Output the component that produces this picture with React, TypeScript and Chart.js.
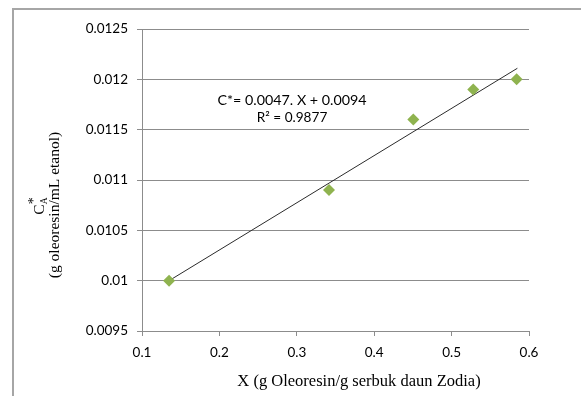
import React, { useEffect, useRef } from "react";
import { Chart, registerables } from "chart.js";

Chart.register(...registerables);

const xValues = [0.135, 0.3416, 0.4505, 0.528, 0.584];
const yValues = [0.01, 0.0109, 0.0116, 0.0119, 0.012];
const trendX = [0.135, 0.585];
const trendY = [0.01, 0.01211];
const xTicks = [0.1, 0.2, 0.3, 0.4, 0.5, 0.6];
const yTicks = [0.0095, 0.01, 0.0105, 0.011, 0.0115, 0.012, 0.0125];
const equationLines = ["C*= 0.0047. X + 0.0094", "R² = 0.9877"];
const xTitle = "X (g Oleoresin/g serbuk daun Zodia)";
const yTitle2 = "(g oleoresin/mL etanol)";

const GRID = "#8c8c8c";
const TICK_FONT = "Lato";

const textPlugin = {
  id: "texts",
  afterDraw(chart: any) {
    const ctx = chart.ctx as CanvasRenderingContext2D;
    ctx.save();
    ctx.fillStyle = "#000";
    ctx.font = `14.3px ${TICK_FONT}`;
    ctx.textAlign = "center";
    ctx.textBaseline = "middle";
    ctx.fillText(equationLines[0], 292, 100);
    ctx.font = `13.6px ${TICK_FONT}`;
    ctx.fillText(equationLines[1], 292, 118);
    ctx.font = "16.5px 'Liberation Serif'";
    ctx.fillText(xTitle, 359, 382);
    ctx.save();
    ctx.translate(55, 205);
    ctx.rotate(-Math.PI / 2);
    ctx.font = "15.5px 'Liberation Serif'";
    ctx.fillText(yTitle2, 0, 0);
    ctx.restore();
    ctx.save();
    ctx.translate(39, 206);
    ctx.rotate(-Math.PI / 2);
    ctx.textAlign = "left";
    ctx.textBaseline = "alphabetic";
    ctx.font = "15.5px 'Liberation Serif'";
    const cw = ctx.measureText("C").width;
    const total = cw + 7;
    ctx.fillText("C", -total / 2, 5);
    ctx.font = "9.5px 'Liberation Serif'";
    ctx.fillText("A", -total / 2 + cw, 8);
    ctx.font = "14px 'Liberation Serif'";
    ctx.fillText("*", -total / 2 + cw, -1);
    ctx.restore();
    ctx.restore();
  },
};

export default function App() {
  const ref = useRef<HTMLCanvasElement>(null);
  useEffect(() => {
    if (!ref.current) return;
    const chart = new Chart(ref.current, {
      type: "scatter",
      data: {
        datasets: [
          {
            label: "data",
            data: xValues.map((x, i) => ({ x, y: yValues[i] })),
            pointStyle: "rectRot",
            pointRadius: 6,
            backgroundColor: "#8fb34f",
            borderColor: "#8fb34f",
            borderWidth: 0,
          },
          {
            label: "trend",
            type: "line",
            data: trendX.map((x, i) => ({ x, y: trendY[i] })),
            borderColor: "#2b2b2b",
            borderWidth: 1,
            pointRadius: 0,
            showLine: true,
          },
        ],
      },
      options: {
        animation: false,
        responsive: false,
        layout: { padding: { left: 0, right: 52, top: 29, bottom: 0 } },
        plugins: { legend: { display: false }, tooltip: { enabled: false } },
        scales: {
          x: {
            type: "linear",
            min: 0.1,
            max: 0.6,
            afterFit: (s: any) => { s.height = 65; },
            afterBuildTicks: (s: any) => { s.ticks = xTicks.map((v) => ({ value: v })); },
            ticks: {
              color: "#000",
              font: { family: TICK_FONT, size: 13.5 },
              padding: 9,
              callback: (v: any) => String(Number(v)),
            },
            grid: { display: true, drawOnChartArea: false, color: GRID, tickLength: 5, tickColor: GRID },
            border: { color: GRID },
          },
          y: {
            type: "linear",
            min: 0.0095,
            max: 0.0125,
            afterFit: (s: any) => { s.width = 142; },
            afterBuildTicks: (s: any) => { s.ticks = yTicks.map((v) => ({ value: v })); },
            ticks: {
              color: "#000",
              font: { family: TICK_FONT, size: 13.5 },
              padding: 9,
              callback: (v: any) => String(Number(Number(v).toFixed(5))),
            },
            grid: { color: GRID, tickLength: 5, tickColor: GRID },
            border: { color: GRID },
          },
        },
      },
      plugins: [textPlugin],
    });
    return () => chart.destroy();
  }, []);
  return (
    <div style={{ position: "fixed", left: 0, top: 0, width: 581, height: 396, background: "#fff" }}>
      <div
        style={{
          position: "absolute",
          left: 12,
          top: 8,
          right: 0,
          bottom: 0,
          borderLeft: "2px solid #a6a6a6",
          borderTop: "2px solid #a6a6a6",
        }}
      />
      <canvas ref={ref} width={581} height={396} style={{ position: "absolute", left: 0, top: 0 }} />
    </div>
  );
}
